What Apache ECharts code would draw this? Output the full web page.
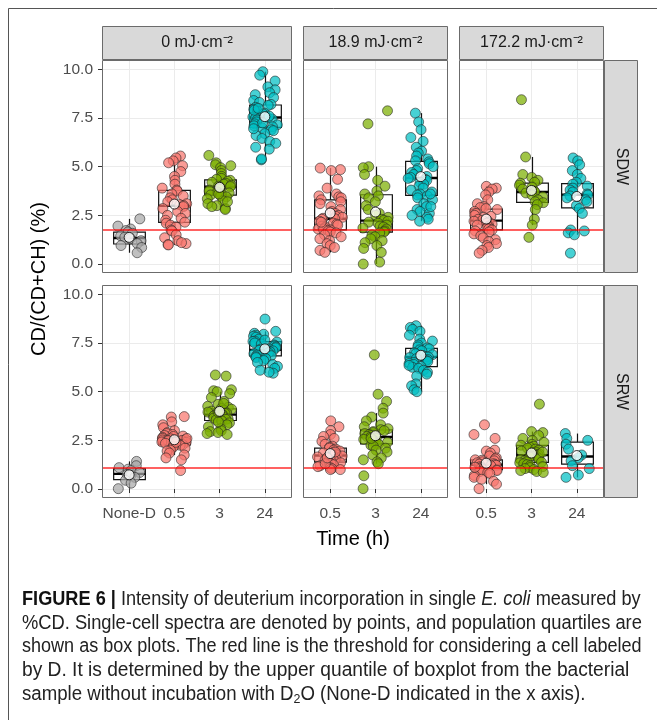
<!DOCTYPE html>
<html><head><meta charset="utf-8">
<script src="https://cdn.jsdelivr.net/npm/echarts@6/dist/echarts.min.js"></script>
<style>html,body{margin:0;padding:0;background:#fff}#c{width:657px;height:720px}</style>
</head><body><div id="c"></div>
<script>
// ---------------- DATA ----------------
const facetLabels = ['0 mJ·cm⁻²', '18.9 mJ·cm⁻²', '172.2 mJ·cm⁻²'];
const rowLabels = ['SDW', 'SRW'];
const col1Categories = ['None-D', '0.5', '3', '24'];
const timeCategories = ['0.5', '3', '24'];
const yTicks = [0, 2.5, 5, 7.5, 10];
const thresholds = [1.75, 1.11];

// SDW, 0 mJ/cm2
const sdw_0mJ_noneD = [2.32, 1.95, 1.8, 1.72, 1.65, 1.58, 1.45, 1.38, 1.3, 1.2, 1.05, 0.95, 0.85, 0.58];
const sdw_0mJ_h05 = [5.55, 5.45, 5.3, 5.2, 5.05, 4.75, 4.5, 4.3, 4.1, 3.9, 3.8, 3.75, 3.6, 3.5, 3.4, 3.3, 3.2, 3.1, 3.05, 3.0, 2.95, 2.85, 2.7, 2.6, 2.5, 2.35, 2.25, 2.15, 2.1, 2.0, 1.9, 1.75, 1.7, 1.5, 1.35, 1.2, 1.05, 1.0, 0.98, 1.1];
const sdw_0mJ_h3 = [5.58, 5.2, 5.1, 5.05, 4.95, 4.8, 4.65, 4.5, 4.4, 4.35, 4.3, 4.25, 4.2, 4.15, 4.1, 4.05, 4.0, 3.98, 3.95, 3.9, 3.85, 3.8, 3.75, 3.7, 3.65, 3.6, 3.55, 3.5, 3.45, 3.35, 3.25, 3.1, 3.0, 2.95, 2.85, 2.8, 3.2, 3.6];
const sdw_0mJ_h24 = [9.88, 9.7, 9.4, 9.1, 8.95, 8.8, 8.7, 8.55, 8.4, 8.3, 8.2, 8.15, 8.05, 7.95, 7.85, 7.75, 7.7, 7.6, 7.55, 7.5, 7.5, 7.45, 7.4, 7.3, 7.2, 7.15, 7.1, 7.05, 7.0, 6.9, 6.85, 6.7, 6.6, 6.45, 6.3, 6.2, 6.0, 5.9, 5.35, 5.4, 7.6, 7.9, 6.95, 8.0, 7.25];
// SDW, 18.9 mJ/cm2
const sdw_189_h05 = [4.93, 4.85, 4.8, 4.35, 3.9, 3.6, 3.5, 3.45, 3.4, 3.3, 3.2, 3.1, 2.95, 2.8, 2.7, 2.6, 2.5, 2.45, 2.4, 2.35, 2.33, 2.3, 2.2, 2.1, 2.05, 2.0, 1.95, 1.9, 1.85, 1.8, 1.78, 1.75, 1.7, 1.65, 1.6, 1.5, 1.4, 1.3, 1.2, 1.05, 0.95, 0.85, 0.7, 0.6, 2.15];
const sdw_189_h3 = [7.87, 7.2, 5.0, 4.95, 4.6, 4.3, 4.0, 3.75, 3.6, 3.5, 3.4, 3.2, 3.0, 2.8, 2.6, 2.5, 2.4, 2.3, 2.25, 2.2, 2.15, 2.1, 2.0, 1.95, 1.9, 1.85, 1.8, 1.7, 1.65, 1.6, 1.5, 1.4, 1.3, 1.2, 1.1, 0.95, 0.8, 0.6, 0.1, 0.0];
const sdw_189_h24 = [7.75, 7.3, 6.9, 6.5, 6.3, 6.0, 5.8, 5.7, 5.55, 5.4, 5.3, 5.25, 5.15, 5.0, 4.9, 4.8, 4.7, 4.6, 4.5, 4.45, 4.4, 4.35, 4.3, 4.2, 4.1, 4.0, 3.9, 3.8, 3.7, 3.6, 3.55, 3.5, 3.4, 3.3, 3.1, 2.95, 2.8, 2.7, 2.6, 2.5, 2.4, 2.3, 2.2, 2.95, 3.6];
// SDW, 172.2 mJ/cm2
const sdw_1722_h05 = [3.99, 3.9, 3.85, 3.7, 3.55, 3.3, 3.1, 2.95, 2.9, 2.85, 2.8, 2.7, 2.6, 2.5, 2.45, 2.4, 2.3, 2.25, 2.2, 2.15, 2.1, 2.05, 2.0, 1.95, 1.9, 1.85, 1.8, 1.75, 1.7, 1.65, 1.55, 1.45, 1.35, 1.25, 1.15, 1.05, 0.95, 0.85, 0.7, 0.56];
const sdw_1722_h3 = [8.44, 5.5, 4.6, 4.45, 4.3, 4.2, 4.15, 4.05, 3.95, 3.85, 3.75, 3.7, 3.65, 3.55, 3.45, 3.3, 3.2, 3.15, 3.05, 2.8, 2.3, 2.0, 1.37];
const sdw_1722_h24 = [5.45, 5.3, 5.1, 4.8, 4.6, 4.4, 4.2, 4.1, 4.0, 3.9, 3.8, 3.7, 3.6, 3.55, 3.5, 3.4, 3.3, 3.2, 3.0, 2.85, 2.6, 1.75, 1.7, 1.6, 1.5, 0.56];
// SRW, 0 mJ/cm2
const srw_0mJ_noneD = [1.42, 1.2, 1.1, 1.02, 0.95, 0.85, 0.75, 0.7, 0.6, 0.45, 0.3, 0.02];
const srw_0mJ_h05 = [3.72, 3.7, 3.45, 3.3, 3.15, 3.0, 2.9, 2.85, 2.8, 2.75, 2.72, 2.7, 2.65, 2.6, 2.58, 2.55, 2.52, 2.5, 2.5, 2.48, 2.45, 2.42, 2.4, 2.38, 2.35, 2.3, 2.28, 2.25, 2.2, 2.15, 2.1, 2.0, 1.95, 1.85, 1.75, 1.6, 1.5, 0.95, 2.6, 2.4];
const srw_0mJ_h3 = [5.86, 5.8, 5.1, 5.05, 5.0, 4.9, 4.7, 4.5, 4.35, 4.25, 4.2, 4.15, 4.1, 4.05, 4.0, 3.95, 3.9, 3.88, 3.85, 3.8, 3.78, 3.75, 3.7, 3.65, 3.6, 3.58, 3.55, 3.5, 3.4, 3.3, 3.2, 3.1, 3.0, 2.95, 2.9, 2.85, 2.8, 3.45, 3.95, 4.4];
const srw_0mJ_h24 = [8.73, 8.1, 8.0, 7.95, 7.9, 7.85, 7.8, 7.7, 7.6, 7.58, 7.55, 7.5, 7.45, 7.4, 7.35, 7.3, 7.25, 7.2, 7.18, 7.15, 7.12, 7.1, 7.05, 7.0, 6.95, 6.9, 6.88, 6.85, 6.8, 6.75, 6.7, 6.6, 6.5, 6.4, 6.3, 6.2, 6.1, 5.95, 6.0, 7.65];
// SRW, 18.9 mJ/cm2
const srw_189_h05 = [3.5, 3.2, 3.0, 2.8, 2.7, 2.6, 2.45, 2.3, 2.2, 2.15, 2.1, 2.05, 2.0, 1.95, 1.9, 1.85, 1.8, 1.75, 1.72, 1.7, 1.65, 1.6, 1.55, 1.5, 1.48, 1.45, 1.4, 1.38, 1.35, 1.3, 1.25, 1.2, 1.15, 1.1, 1.05, 1.0, 1.0, 1.3, 1.9, 1.6];
const srw_189_h3 = [6.89, 4.87, 4.5, 4.15, 3.9, 3.7, 3.5, 3.3, 3.2, 3.1, 3.05, 3.0, 2.95, 2.9, 2.85, 2.8, 2.75, 2.7, 2.68, 2.65, 2.6, 2.55, 2.5, 2.45, 2.4, 2.35, 2.3, 2.25, 2.2, 2.1, 2.0, 1.9, 1.75, 1.6, 1.5, 1.4, 1.3, 0.68, 0.02, 2.6];
const srw_189_h24 = [8.39, 8.3, 8.2, 8.1, 7.9, 7.7, 7.6, 7.5, 7.4, 7.3, 7.25, 7.2, 7.15, 7.1, 7.0, 6.95, 6.9, 6.85, 6.8, 6.78, 6.75, 6.7, 6.65, 6.6, 6.55, 6.5, 6.45, 6.4, 6.3, 6.25, 6.2, 6.1, 6.0, 5.9, 5.8, 5.4, 5.3, 5.1, 5.0, 6.35];
// SRW, 172.2 mJ/cm2
const srw_1722_h05 = [3.3, 2.8, 2.6, 2.0, 1.95, 1.85, 1.7, 1.6, 1.55, 1.5, 1.48, 1.45, 1.4, 1.35, 1.3, 1.28, 1.25, 1.22, 1.2, 1.15, 1.1, 1.05, 1.0, 0.98, 0.95, 0.9, 0.85, 0.8, 0.7, 0.6, 0.5, 0.4, 0.25, 0.02, 1.12];
const srw_1722_h3 = [4.36, 2.95, 2.9, 2.75, 2.6, 2.5, 2.4, 2.3, 2.25, 2.2, 2.15, 2.1, 2.05, 2.0, 1.95, 1.9, 1.85, 1.8, 1.75, 1.72, 1.7, 1.65, 1.6, 1.55, 1.5, 1.45, 1.4, 1.38, 1.35, 1.3, 1.25, 1.2, 1.15, 1.1, 1.05, 1.0, 0.95, 0.9, 0.85, 1.9];
const srw_1722_h24 = [2.85, 2.6, 2.5, 2.3, 2.05, 1.75, 1.6, 1.45, 1.2, 1.05, 0.72, 0.6];

// Box quartiles [Q1, median, Q3] and means, per category
const sdw_0mJ_quartiles = [[1.03, 1.34, 1.64], [2.14, 2.99, 3.78], [3.54, 3.97, 4.32], [7.02, 7.53, 8.17]];
const sdw_0mJ_means = [1.37, 3.08, 3.94, 7.57];
const sdw_189_quartiles = [[1.76, 2.33, 3.30], [1.64, 2.23, 3.56], [3.53, 4.42, 5.27]];
const sdw_189_means = [2.62, 2.67, 4.49];
const sdw_1722_quartiles = [[1.76, 2.23, 2.82], [3.17, 3.70, 4.16], [2.88, 3.56, 4.13]];
const sdw_1722_means = [2.31, 3.78, 3.47];
const srw_0mJ_quartiles = [[0.48, 0.78, 1.04], [2.27, 2.50, 2.70], [3.52, 3.82, 4.12], [6.84, 7.15, 7.57]];
const srw_0mJ_means = [0.73, 2.53, 3.99, 7.20];
const srw_189_quartiles = [[1.38, 1.72, 2.10], [2.32, 2.67, 3.04], [6.29, 6.79, 7.23]];
const srw_189_means = [1.82, 2.74, 6.87];
const srw_1722_quartiles = [[0.99, 1.25, 1.50], [1.37, 1.74, 2.24], [1.28, 1.67, 2.41]];
const srw_1722_means = [1.33, 1.85, 1.72];

const captionLines = [
  '{b|FIGURE 6 |} Intensity of deuterium incorporation in single {i|E. coli} measured by',
  '%CD. Single-cell spectra are denoted by points, and population quartiles are',
  'shown as box plots. The red line is the threshold for considering a cell labeled',
  'by D. It is determined by the upper quantile of boxplot from the bacterial',
  'sample without incubation with D{sub|2}O (None-D indicated in the x axis).'
];

// ---------------- BUILD ----------------
const panels = [
  {row: 0, col: 0, cats: col1Categories, pts: [sdw_0mJ_noneD, sdw_0mJ_h05, sdw_0mJ_h3, sdw_0mJ_h24], q: sdw_0mJ_quartiles, m: sdw_0mJ_means},
  {row: 0, col: 1, cats: timeCategories, pts: [sdw_189_h05, sdw_189_h3, sdw_189_h24], q: sdw_189_quartiles, m: sdw_189_means},
  {row: 0, col: 2, cats: timeCategories, pts: [sdw_1722_h05, sdw_1722_h3, sdw_1722_h24], q: sdw_1722_quartiles, m: sdw_1722_means},
  {row: 1, col: 0, cats: col1Categories, pts: [srw_0mJ_noneD, srw_0mJ_h05, srw_0mJ_h3, srw_0mJ_h24], q: srw_0mJ_quartiles, m: srw_0mJ_means},
  {row: 1, col: 1, cats: timeCategories, pts: [srw_189_h05, srw_189_h3, srw_189_h24], q: srw_189_quartiles, m: srw_189_means},
  {row: 1, col: 2, cats: timeCategories, pts: [srw_1722_h05, srw_1722_h3, srw_1722_h24], q: srw_1722_quartiles, m: srw_1722_means}
];

const catColor = {'None-D': '#A8A8A8', '0.5': '#F8766D', '3': '#7CAE00', '24': '#00BFC4'};
const colLeft = [102, 303, 459];
const colWidth = [190, 145, 145];
const rowTop = [60, 285];
const panelH = 213;
const FONT = '"Liberation Sans", Arial, sans-serif';

function jit(i, k) {
  const s = Math.sin((i + 1) * 12.9898 + k * 78.233) * 43758.5453;
  return s - Math.floor(s);
}
function whiskers(arr, q1, q3) {
  const iqr = q3 - q1, lo = q1 - 1.5 * iqr, hi = q3 + 1.5 * iqr;
  let wl = q1, wh = q3;
  arr.forEach(v => { if (v >= lo && v < wl) wl = v; if (v <= hi && v > wh) wh = v; });
  return [wl, wh];
}

const grid = [], xAxis = [], yAxis = [], series = [], graphic = [];
panels.forEach((p, k) => {
  const n = p.cats.length;
  grid.push({left: colLeft[p.col], top: rowTop[p.row], width: colWidth[p.col], height: panelH, containLabel: false});
  const tickVals = p.cats.map((c, i) => i + 1);
  xAxis.push({
    type: 'value', gridIndex: k, min: 0.4, max: n + 0.6,
    axisLine: {show: false},
    axisTick: {show: p.row === 1, customValues: tickVals, length: 4, lineStyle: {color: '#333', width: 1}},
    axisLabel: {show: p.row === 1, customValues: tickVals, margin: 8, color: '#4D4D4D', fontSize: 15.5, fontFamily: FONT,
      formatter: v => p.cats[Math.round(v) - 1] || ''},
    splitLine: {show: true, lineStyle: {color: '#EBEBEB', width: 1}}
  });
  yAxis.push({
    type: 'value', gridIndex: k, min: -0.46, max: 10.48,
    axisLine: {show: false},
    axisTick: {show: p.col === 0, customValues: yTicks, length: 4, lineStyle: {color: '#333', width: 1}},
    axisLabel: {show: p.col === 0, customValues: yTicks, margin: 9, color: '#4D4D4D', fontSize: 15.5, fontFamily: FONT,
      formatter: v => v.toFixed(1)},
    splitLine: {show: true, lineStyle: {color: '#EBEBEB', width: 1}}
  });
  // boxes
  const boxData = p.cats.map((c, i) => {
    const [q1, med, q3] = p.q[i];
    const [wl, wh] = whiskers(p.pts[i], q1, q3);
    return [i + 1, q1, med, q3, wl, wh];
  });
  series.push({
    type: 'custom', xAxisIndex: k, yAxisIndex: k, z: 2, silent: true,
    data: boxData,
    renderItem: (params, api) => {
      const x = api.value(0);
      const half = api.size([0.7, 0])[0] / 2;
      const c1 = api.coord([x, api.value(1)]);
      const cm = api.coord([x, api.value(2)]);
      const c3 = api.coord([x, api.value(3)]);
      const cl = api.coord([x, api.value(4)]);
      const ch = api.coord([x, api.value(5)]);
      const px = Math.round(c1[0]) + 0.5;
      return {type: 'group', children: [
        {type: 'line', shape: {x1: px, y1: ch[1], x2: px, y2: c3[1]}, style: {stroke: '#111', lineWidth: 1.2}},
        {type: 'line', shape: {x1: px, y1: c1[1], x2: px, y2: cl[1]}, style: {stroke: '#111', lineWidth: 1.2}},
        {type: 'rect', shape: {x: px - half, y: c3[1], width: 2 * half, height: c1[1] - c3[1]}, style: {fill: '#fff', stroke: '#111', lineWidth: 1.2}},
        {type: 'line', shape: {x1: px - half, y1: cm[1], x2: px + half, y2: cm[1]}, style: {stroke: '#000', lineWidth: 2.4}}
      ]};
    }
  });
  // points
  const ptData = [];
  p.pts.forEach((arr, i) => {
    arr.forEach((v, j) => {
      ptData.push({value: [i + 1 + (jit(j, k * 7 + i) - 0.5) * 0.56, v], itemStyle: {color: catColor[p.cats[i]]}});
    });
  });
  series.push({
    type: 'scatter', xAxisIndex: k, yAxisIndex: k, z: 3, silent: true,
    symbolSize: 10, data: ptData,
    itemStyle: {opacity: 0.72, borderColor: '#222', borderWidth: 0.8}
  });
  // threshold
  series.push({
    type: 'line', xAxisIndex: k, yAxisIndex: k, z: 4, silent: true, data: [],
    markLine: {silent: true, symbol: 'none', label: {show: false},
      lineStyle: {color: 'rgba(255,0,0,0.62)', width: 2.2, type: 'solid'},
      data: [{yAxis: thresholds[p.row]}], animation: false}
  });
  // means
  series.push({
    type: 'scatter', xAxisIndex: k, yAxisIndex: k, z: 5, silent: true,
    symbolSize: 10, data: p.m.map((v, i) => [i + 1, v]),
    itemStyle: {color: '#fff', borderColor: '#000', borderWidth: 1}
  });
  // panel border
  graphic.push({type: 'rect', z: 100, silent: true,
    shape: {x: colLeft[p.col] + 0.5, y: rowTop[p.row] + 0.5, width: colWidth[p.col] - 1, height: panelH - 1},
    style: {fill: 'none', stroke: '#6b6b6b', lineWidth: 1}});
});

// top strips
facetLabels.forEach((lab, c) => {
  graphic.push({type: 'rect', z: 100, silent: true,
    shape: {x: colLeft[c] + 0.5, y: 26.5, width: colWidth[c] - 1, height: 33},
    style: {fill: '#D9D9D9', stroke: '#6b6b6b', lineWidth: 1}});
  graphic.push({type: 'text', z: 101, silent: true, x: colLeft[c] + colWidth[c] / 2, y: 43,
    style: {text: lab, fill: '#1A1A1A', font: '16px ' + FONT, align: 'center', verticalAlign: 'middle'}});
});
// right strips
rowLabels.forEach((lab, r) => {
  graphic.push({type: 'rect', z: 100, silent: true,
    shape: {x: 604.5, y: rowTop[r] + 0.5, width: 33, height: panelH - 1},
    style: {fill: '#D9D9D9', stroke: '#6b6b6b', lineWidth: 1}});
  graphic.push({type: 'text', z: 101, silent: true, x: 621, y: rowTop[r] + panelH / 2, rotation: -Math.PI / 2,
    style: {text: lab, fill: '#1A1A1A', font: '16px ' + FONT, align: 'center', verticalAlign: 'middle'}});
});
// axis titles
graphic.push({type: 'text', z: 101, silent: true, x: 353, y: 539,
  style: {text: 'Time (h)', fill: '#000', font: '20px ' + FONT, align: 'center', verticalAlign: 'middle'}});
graphic.push({type: 'text', z: 101, silent: true, x: 39, y: 279, rotation: Math.PI / 2,
  style: {text: 'CD/(CD+CH) (%)', fill: '#000', font: '20px ' + FONT, align: 'center', verticalAlign: 'middle'}});
// outer frame
graphic.push({type: 'rect', z: 100, silent: true, shape: {x: 8.5, y: 8.5, width: 700, height: 800},
  style: {fill: 'none', stroke: '#555', lineWidth: 1}});
// caption (horizontally condensed to mimic the narrow caption face)
const captionScale = [0.931, 0.939, 0.925, 0.983, 0.956];
captionLines.forEach((line, i) => {
  graphic.push({type: 'text', z: 101, silent: true, x: 22, y: 599.5 + i * 23.8, scaleX: captionScale[i],
    style: {text: line, fill: '#222', fontFamily: FONT, fontSize: 19.5, align: 'left', verticalAlign: 'middle',
      rich: {
        b: {fontFamily: FONT, fontSize: 19.5, fontWeight: 'bold', fill: '#111'},
        i: {fontFamily: FONT, fontSize: 19.5, fontStyle: 'italic', fill: '#222'},
        sub: {fontFamily: FONT, fontSize: 13, fill: '#222', padding: [9, 0, 0, 0]}
      }}});
});

const chart = echarts.init(document.getElementById('c'), null, {renderer: 'canvas'});
chart.setOption({animation: false, backgroundColor: '#fff', grid, xAxis, yAxis, series, graphic});
</script></body></html>
